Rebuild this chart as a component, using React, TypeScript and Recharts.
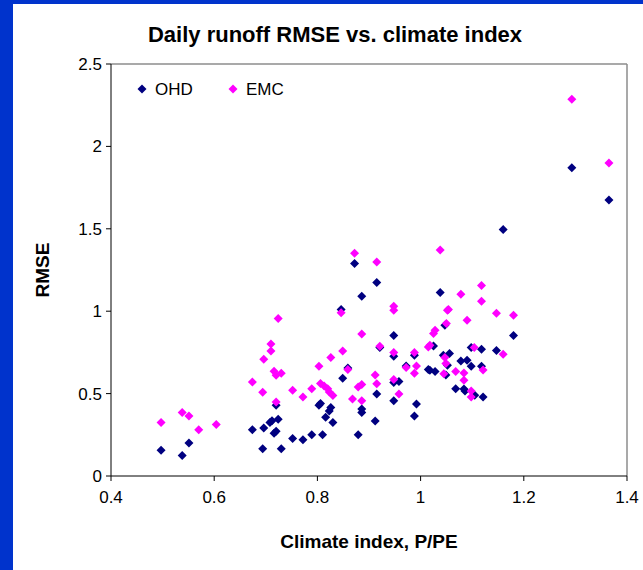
import React from 'react';
import { ScatterChart, Scatter, XAxis, YAxis, ReferenceLine, Legend } from 'recharts';

const xTicks = [0.4, 0.6, 0.8, 1, 1.2, 1.4];
const yTicks = [0, 0.5, 1, 1.5, 2, 2.5];

const ohdX = [0.497, 0.538, 0.551, 0.674, 0.694, 0.696, 0.708, 0.712, 0.716, 0.72, 0.724, 0.72, 0.73, 0.752, 0.772, 0.789, 0.803, 0.806, 0.81, 0.816, 0.823, 0.826, 0.83, 0.846, 0.849, 0.859, 0.872, 0.879, 0.886, 0.886, 0.886, 0.912, 0.915, 0.915, 0.921, 0.948, 0.948, 0.988, 0.972, 0.948, 0.958, 0.948, 0.992, 0.988, 1.038, 1.047, 1.025, 1.015, 1.018, 1.028, 1.044, 1.056, 1.052, 1.049, 1.068, 1.078, 1.084, 1.086, 1.09, 1.098, 1.098, 1.105, 1.118, 1.118, 1.121, 1.147, 1.18, 1.16, 1.293, 1.365];
const ohdY = [0.157, 0.125, 0.2, 0.281, 0.166, 0.291, 0.324, 0.335, 0.26, 0.271, 0.344, 0.429, 0.166, 0.228, 0.22, 0.25, 0.429, 0.44, 0.25, 0.356, 0.394, 0.415, 0.324, 1.01, 0.593, 0.656, 1.29, 0.25, 1.09, 0.406, 0.386, 0.334, 1.174, 0.498, 0.78, 0.852, 0.727, 0.733, 0.668, 0.567, 0.573, 0.457, 0.437, 0.364, 1.114, 0.915, 0.789, 0.646, 0.641, 0.634, 0.733, 0.743, 0.672, 0.613, 0.53, 0.698, 0.528, 0.516, 0.702, 0.78, 0.666, 0.49, 0.769, 0.666, 0.479, 0.761, 0.852, 1.496, 1.871, 1.674];

const emcX = [0.497, 0.538, 0.551, 0.57, 0.604, 0.674, 0.694, 0.696, 0.71, 0.71, 0.716, 0.72, 0.724, 0.73, 0.72, 0.752, 0.772, 0.789, 0.803, 0.806, 0.813, 0.82, 0.823, 0.83, 0.826, 0.846, 0.849, 0.859, 0.872, 0.868, 0.886, 0.879, 0.886, 0.886, 0.912, 0.915, 0.921, 0.915, 0.948, 0.948, 0.948, 0.948, 0.958, 0.972, 0.988, 0.992, 0.988, 1.015, 1.018, 1.025, 1.028, 1.038, 1.05, 1.052, 1.054, 1.047, 1.049, 1.045, 1.068, 1.078, 1.084, 1.084, 1.09, 1.098, 1.098, 1.104, 1.118, 1.118, 1.121, 1.147, 1.16, 1.18, 1.293, 1.365];
const emcY = [0.324, 0.386, 0.364, 0.281, 0.313, 0.57, 0.508, 0.708, 0.801, 0.759, 0.635, 0.611, 0.955, 0.623, 0.449, 0.52, 0.479, 0.53, 0.666, 0.561, 0.546, 0.53, 0.51, 0.488, 0.719, 0.99, 0.759, 0.646, 1.352, 0.467, 0.862, 0.54, 0.555, 0.457, 0.613, 0.56, 0.787, 1.298, 1.03, 1.006, 0.749, 0.585, 0.498, 0.658, 0.749, 0.668, 0.623, 0.783, 0.793, 0.864, 0.885, 1.371, 0.925, 1.006, 1.01, 0.719, 0.682, 0.621, 0.634, 1.103, 0.625, 0.581, 0.945, 0.516, 0.479, 0.78, 1.156, 1.061, 0.643, 0.988, 0.739, 0.976, 2.286, 1.9];

const ohdData = ohdX.map((x, i) => ({ x, y: ohdY[i] }));
const emcData = emcX.map((x, i) => ({ x, y: emcY[i] }));

const OHD_COLOR = '#000080';
const EMC_COLOR = '#FF00FF';
const FONT = '"Liberation Sans", Arial, sans-serif';

const diamondPath = (cx: number, cy: number, r: number) =>
  `M${cx},${cy - r}L${cx + r},${cy}L${cx},${cy + r}L${cx - r},${cy}Z`;

const makeShape = (color: string) => (props: any) => {
  const { cx, cy } = props;
  if (cx == null || cy == null) return <g />;
  return <path d={diamondPath(cx, cy, 4.5)} fill={color} />;
};

const LegendContent = () => (
  <svg width={180} height={22} style={{ display: 'block' }}>
    <path d={diamondPath(12, 11, 4.5)} fill={OHD_COLOR} />
    <text x={25} y={17} fontFamily={FONT} fontSize={17} fill="#000">OHD</text>
    <path d={diamondPath(103, 11, 4.5)} fill={EMC_COLOR} />
    <text x={116} y={17} fontFamily={FONT} fontSize={17} fill="#000">EMC</text>
  </svg>
);

export default function App() {
  return (
    <div style={{ position: 'absolute', left: 0, top: 0, width: 643, height: 570, background: '#fff', overflow: 'hidden' }}>
      <div style={{ position: 'absolute', left: 0, top: 0, width: 13, height: 570, background: '#0033CC' }} />
      <div style={{ position: 'absolute', left: 0, top: 0, width: 643, height: 4, background: '#0033CC' }} />
      <div
        style={{
          position: 'absolute', left: 20, top: 22, width: 630, textAlign: 'center',
          fontFamily: FONT, fontWeight: 'bold', fontSize: 22, color: '#000', lineHeight: '26px',
        }}
      >
        Daily runoff RMSE vs. climate index
      </div>
      <div style={{ position: 'absolute', left: 0, top: 0 }}>
        <ScatterChart width={643} height={570} margin={{ top: 64, right: 16, bottom: 0, left: 13 }}>
          <XAxis
            type="number"
            dataKey="x"
            domain={[0.4, 1.4]}
            ticks={xTicks}
            interval={0}
            height={94}
            axisLine={{ stroke: '#000', strokeWidth: 1 }}
            tickLine={{ stroke: '#000' }}
            tickSize={5}
            tickMargin={10}
            tick={{ fill: '#000', fontSize: 17, fontFamily: FONT }}
            label={{
              content: ({ viewBox }: any) => (
                <text
                  x={viewBox.x + viewBox.width / 2}
                  y={viewBox.y + 72}
                  textAnchor="middle"
                  fontFamily={FONT}
                  fontWeight="bold"
                  fontSize={19}
                  fill="#000"
                >
                  Climate index, P/PE
                </text>
              ),
            }}
          />
          <YAxis
            type="number"
            dataKey="y"
            domain={[0, 2.5]}
            ticks={yTicks}
            interval={0}
            width={98}
            axisLine={{ stroke: '#000', strokeWidth: 1 }}
            tickLine={{ stroke: '#000' }}
            tickSize={5}
            tickMargin={4}
            tick={{ fill: '#000', fontSize: 17, fontFamily: FONT }}
            label={{
              content: ({ viewBox }: any) => {
                const cx = viewBox.x + 36;
                const cy = viewBox.y + viewBox.height / 2;
                return (
                  <text
                    x={cx}
                    y={cy}
                    transform={`rotate(-90, ${cx}, ${cy})`}
                    textAnchor="middle"
                    fontFamily={FONT}
                    fontWeight="bold"
                    fontSize={19}
                    fill="#000"
                  >
                    RMSE
                  </text>
                );
              },
            }}
          />
          <ReferenceLine y={2.5} stroke="#8c8c8c" strokeWidth={1.5} ifOverflow="visible" />
          <ReferenceLine x={1.4} stroke="#8c8c8c" strokeWidth={1.5} ifOverflow="visible" />
          <Legend
            layout="horizontal"
            verticalAlign="middle"
            align="center"
            content={() => <LegendContent />}
            wrapperStyle={{ left: 130, top: 78, width: 180, height: 22 }}
          />
          <Scatter name="OHD" data={ohdData} fill={OHD_COLOR} shape={makeShape(OHD_COLOR)} isAnimationActive={false} />
          <Scatter name="EMC" data={emcData} fill={EMC_COLOR} shape={makeShape(EMC_COLOR)} isAnimationActive={false} />
        </ScatterChart>
      </div>
    </div>
  );
}
